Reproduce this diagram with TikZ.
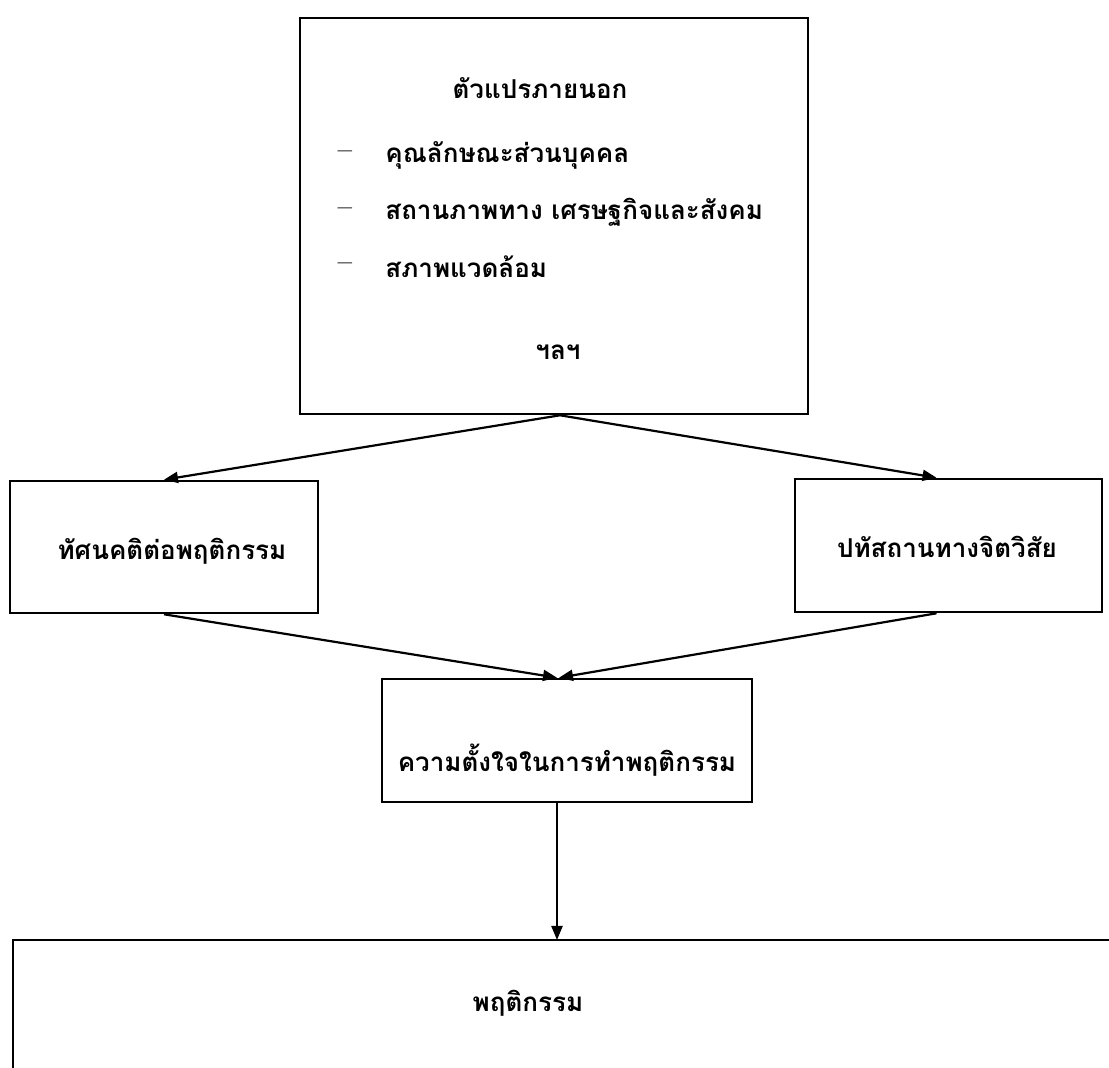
\documentclass[tikz,border=0pt]{standalone}
\usepackage{fontspec}
\newfontfamily\thaifont[Script=Thai]{Loma}
\usetikzlibrary{arrows.meta,calc}
\tikzset{
  box/.style={draw, line width=1.3pt, rectangle, inner sep=0pt},
  conn/.style={line width=1.1pt, -{Triangle[length=7pt,width=5.5pt]}},
  lbl/.style={font=\thaifont\bfseries\fontsize{13}{15}\selectfont, inner sep=0pt},
  dsh/.style={font=\bfseries\fontsize{13}{15}\selectfont, inner sep=0pt}
}
\begin{document}
\begin{tikzpicture}[x=0.5pt,y=-0.5pt]
\useasboundingbox (0,0) rectangle (1109,1068);
% boxes
\node[box, minimum width=254pt, minimum height=198pt] (ext) at (554,216) {};
\node[box, minimum width=154pt, minimum height=66pt] (att) at (164,547) {};
\node[box, minimum width=153.5pt, minimum height=66.5pt] (norm) at (948.5,545.5) {};
\node[box, minimum width=185pt, minimum height=61.5pt] (int) at (567,740.5) {};
\coordinate (bnw) at (13,940);
\coordinate (bne) at (1109,940);
\coordinate (bsw) at (13,1068);
\draw[line width=1.3pt] (bne) -- (bnw) -- (bsw);
% texts
\node[lbl] (t0) at (540,88) {ตัวแปรภายนอก};
\node[dsh] (d1) at (345,155) {--};
\node[lbl, anchor=west] (t1) at (385,155) {คุณลักษณะส่วนบุคคล};
\node[dsh] (d2) at (345,212) {--};
\node[lbl, anchor=west] (t2) at (385,212) {สถานภาพทาง เศรษฐกิจและสังคม};
\node[dsh] (d3) at (345,267) {--};
\node[lbl, anchor=west] (t3) at (385,267) {สภาพแวดล้อม};
\node[lbl] (t4) at (558,352) {ฯลฯ};
\node[lbl] (ta) at (172,551) {ทัศนคติต่อพฤติกรรม};
\node[lbl] (tn) at (947,547) {ปทัสถานทางจิตวิสัย};
\node[lbl] (ti) at (567,760) {ความตั้งใจในการทำพฤติกรรม};
\node[lbl] (tb) at (528,1003) {พฤติกรรม};
% connectors
\coordinate (bin) at ($(int.south)+(-10,0)$);
\draw[conn] ([xshift=3pt]ext.south) -- (att.north);
\draw[conn] ([xshift=3pt]ext.south) -- ([xshift=-6pt]norm.north);
\draw[conn] (att.south) -- ([xshift=-5pt]int.north);
\draw[conn] ([xshift=-6pt]norm.south) -- ([xshift=-4pt]int.north);
\draw[conn] (bin) -- (bin |- bnw);
\end{tikzpicture}
\end{document}
